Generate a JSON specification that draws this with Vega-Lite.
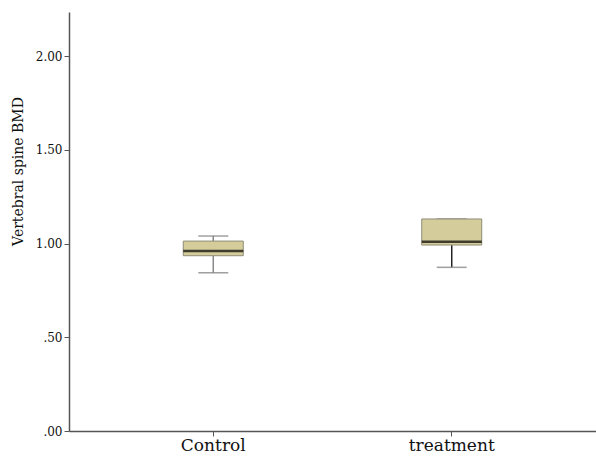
{
  "$schema": "https://vega.github.io/schema/vega-lite/v6.json",
  "autosize": "none",
  "width": 527,
  "height": 419,
  "padding": {"left": 69, "top": 12, "right": 0, "bottom": 26},
  "background": "white",
  "config": {
    "view": {"stroke": null},
    "font": "DejaVu Serif",
    "axis": {"labelFont": "DejaVu Serif", "titleFont": "DejaVu Serif", "domainColor": "#555555", "tickColor": "#555555", "labelColor": "#111111", "titleColor": "#111111", "grid": false, "titleFontWeight": "normal"}
  },
  "data": {
    "values": [
      {"group": "Control", "lower": 0.844, "q1": 0.935, "median": 0.96, "q3": 1.013, "upper": 1.04},
      {"group": "treatment", "lower": 0.873, "q1": 0.992, "median": 1.01, "q3": 1.131, "upper": 1.131}
    ]
  },
  "encoding": {
    "x": {
      "field": "group", "type": "nominal", "sort": ["Control", "treatment"],
      "scale": {"paddingInner": 0.5, "paddingOuter": 0.355},
      "axis": {"title": null, "labelAngle": 0, "labelFontSize": 17, "tickSize": 5, "labelPadding": 1, "domainWidth": 1.5}
    }
  },
  "layer": [
    {
      "mark": {"type": "rule", "strokeWidth": 1.5},
      "encoding": {
        "y": {"field": "lower", "type": "quantitative", "scale": {"domain": [0, 2.235], "nice": false},
          "axis": {"title": "Vertebral spine BMD", "titleFontSize": 14, "titlePadding": 10, "titleY": 159, "values": [0, 0.5, 1, 1.5, 2], "labelFontSize": 12, "tickSize": 5, "domainWidth": 1.5,
            "labelExpr": "datum.value < 1 ? substring(format(datum.value, '.2f'), 1) : format(datum.value, '.2f')"}},
        "y2": {"field": "upper"},
        "color": {"condition": {"test": "datum.group === 'treatment'", "value": "#222222"}, "value": "#888888"}
      }
    },
    {
      "mark": {"type": "tick", "size": 30, "thickness": 1.5, "color": "#777777", "orient": "horizontal"},
      "encoding": {"y": {"field": "lower", "type": "quantitative"}}
    },
    {
      "mark": {"type": "tick", "size": 30, "thickness": 1.5, "color": "#777777", "orient": "horizontal"},
      "encoding": {"y": {"field": "upper", "type": "quantitative"}}
    },
    {
      "mark": {"type": "bar", "size": 60, "fill": "#d4cd9b", "stroke": "#8f8c78", "strokeWidth": 1},
      "encoding": {"y": {"field": "q1", "type": "quantitative"}, "y2": {"field": "q3"}}
    },
    {
      "mark": {"type": "tick", "size": 60, "thickness": 2.5, "color": "#000000", "orient": "horizontal"},
      "encoding": {"y": {"field": "median", "type": "quantitative"}}
    }
  ]
}
